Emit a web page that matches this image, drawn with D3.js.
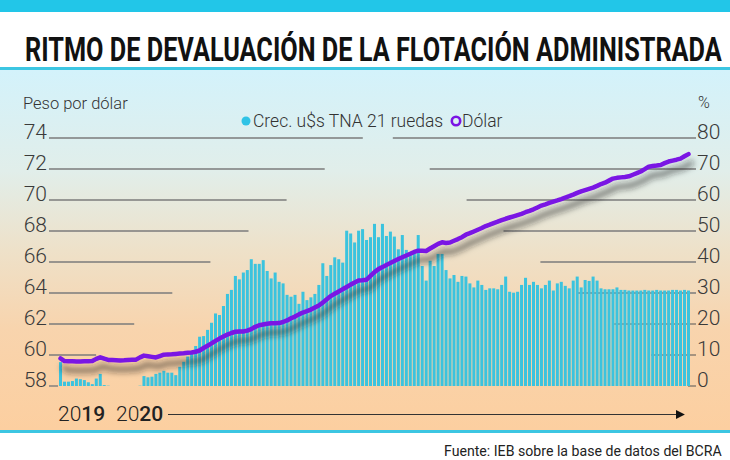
<!DOCTYPE html>
<html>
<head>
<meta charset="utf-8">
<title></title>
<script src="https://cdn.jsdelivr.net/npm/d3@7/dist/d3.min.js"></script>
<style>
  body { margin: 0; background: #fff; }
  text { font-family: Roboto, "Noto Sans", sans-serif; }
</style>
</head>
<body>
<script>
const width = 730
const height = 460

// datos
const titulo = 'RITMO DE DEVALUACIÓN DE LA FLOTACIÓN ADMINISTRADA'
const fuente = 'Fuente: IEB sobre la base de datos del BCRA'
const ticksPeso = [58, 60, 62, 64, 66, 68, 70, 72, 74]
const ticksPct = [0, 10, 20, 30, 40, 50, 60, 70, 80]
const anios = ['2019', '2020']

// Crec. u$s TNA 21 ruedas (%), una barra por rueda
const crec = [
  7.7, 1.4, 1.4, 1.6, 2.4, 2.2, 1.9, 1.2, 0.6, 2.4, 3.9, 0.3, 0.1,
  0, 0, 0, 0, 0, 0, 0,
  0.1, 3.2, 2.8, 3.0, 3.9, 4.3, 4.9, 4.3, 4.3, 3.5,
  6.2, 7.8, 9.5, 11.1, 12.9, 15.9, 16.1, 18.1, 20.4, 23.4,
  22.9, 25.8, 29.7, 31.0, 35.5, 34.4, 36.6, 37.4, 40.9, 39.4,
  39.4, 40.6, 37.1, 34.7, 36.6, 33.6, 33.1, 29.4, 28.8, 29.4,
  26.5, 30.4, 27.7, 28.6, 29.7, 32.6, 39.6, 35.5, 39.0, 41.5,
  40.9, 39.8, 50.1, 49.2, 46.3, 50.1, 50.6, 47.1, 48.0, 52.3,
  48.0, 52.3, 48.4, 49.8, 48.2, 44.1, 48.7, 43.9, 42.8, 43.0,
  48.7, 38.7, 34.0, 40.4, 38.7, 42.6, 42.6, 37.4, 34.7, 35.8,
  33.6, 35.5, 35.3, 33.1, 31.8, 34.0, 32.6, 31.0, 31.5, 31.5,
  31.2, 32.6, 35.3, 30.4, 30.1, 30.4, 32.6, 34.9, 32.6, 33.6,
  32.6, 31.5, 32.6, 34.0, 30.8, 33.1, 33.6, 32.3, 31.5, 34.0,
  35.3, 31.8, 34.2, 33.9, 35.3, 34.0, 31.5, 31.2, 31.2, 31.2,
  31.8, 31.0, 31.0, 30.8, 30.8, 30.8, 30.8, 31.0, 30.8, 30.8,
  31.0, 30.8, 30.8, 30.8, 31.0, 31.0, 30.8, 31.0, 30.8
]

// Dólar (peso por dólar)
const dolar = [
  59.78, 59.61, 59.60, 59.59, 59.58, 59.58, 59.59, 59.60, 59.61, 59.75,
  59.85, 59.76, 59.68, 59.67, 59.66, 59.65, 59.66, 59.68, 59.69, 59.70,
  59.85, 59.96, 59.92, 59.88, 59.84, 59.93, 60.02, 60.04, 60.05, 60.07,
  60.09, 60.11, 60.14, 60.16, 60.21, 60.29, 60.45, 60.60, 60.75, 60.91,
  61.06, 61.19, 61.32, 61.42, 61.50, 61.51, 61.52, 61.57, 61.67, 61.82,
  61.92, 61.97, 62.02, 62.05, 62.05, 62.06, 62.13, 62.23, 62.37, 62.48,
  62.62, 62.74, 62.83, 62.93, 63.06, 63.19, 63.38, 63.60, 63.80, 63.95,
  64.10, 64.24, 64.39, 64.54, 64.67, 64.80, 64.82, 64.86, 65.11, 65.35,
  65.54, 65.67, 65.81, 65.93, 66.06, 66.19, 66.31, 66.42, 66.53, 66.65,
  66.73, 66.72, 66.71, 66.87, 67.02, 67.17, 67.27, 67.23, 67.26, 67.37,
  67.48, 67.60, 67.76, 67.86, 67.97, 68.08, 68.19, 68.32, 68.41, 68.51,
  68.60, 68.70, 68.79, 68.87, 68.95, 69.03, 69.11, 69.21, 69.30, 69.40,
  69.52, 69.64, 69.72, 69.81, 69.89, 69.97, 70.06, 70.16, 70.25, 70.35,
  70.46, 70.56, 70.64, 70.72, 70.80, 70.91, 71.03, 71.12, 71.25, 71.38,
  71.43, 71.46, 71.49, 71.53, 71.63, 71.73, 71.84, 71.99, 72.15, 72.19,
  72.22, 72.26, 72.38, 72.48, 72.54, 72.60, 72.67, 72.82, 72.96
]

const svg = d3.select('body').append('svg')
  .attr('width', width)
  .attr('height', height)

const defs = svg.append('defs')
const grad = defs.append('linearGradient')
  .attr('id', 'fondo')
  .attr('gradientUnits', 'userSpaceOnUse')
  .attr('x1', 0).attr('y1', 70).attr('x2', 0).attr('y2', 430)
grad.append('stop').attr('offset', '0%').attr('stop-color', '#d3f2fb')
grad.append('stop').attr('offset', '28%').attr('stop-color', '#e1eeea')
grad.append('stop').attr('offset', '50%').attr('stop-color', '#eee1c9')
grad.append('stop').attr('offset', '72%').attr('stop-color', '#f8d4ad')
grad.append('stop').attr('offset', '100%').attr('stop-color', '#fccfa0')

const sombra = defs.append('filter').attr('id', 'sombra')
  .attr('x', '-10%').attr('y', '-30%').attr('width', '130%').attr('height', '180%')
sombra.append('feDropShadow')
  .attr('dx', 3).attr('dy', 9).attr('stdDeviation', 3.2)
  .attr('flood-color', '#1e1e1e').attr('flood-opacity', 0.65)

defs.append('marker').attr('id', 'flecha')
  .attr('viewBox', '0 0 10 10').attr('refX', 9).attr('refY', 5)
  .attr('markerWidth', 9).attr('markerHeight', 9).attr('markerUnits', 'userSpaceOnUse')
  .attr('orient', 'auto')
  .append('path').attr('d', 'M0,0L10,5L0,10Z').attr('fill', '#111')

// texto comprimido a un ancho dado (fuente condensada)
function condensado(sel, x0, y0, ancho) {
  const w = sel.node().getComputedTextLength()
  sel.attr('x', 0).attr('y', 0)
    .attr('transform', `translate(${x0},${y0}) scale(${ancho / w},1)`)
}

// cabecera
svg.append('rect').attr('x', 0).attr('y', 0).attr('width', width).attr('height', 12).attr('fill', '#22c6e8')
const tit = svg.append('text')
  .style('font-size', '33px').style('font-weight', 700).attr('fill', '#111')
  .text(titulo)
condensado(tit, 25, 61, 697)

// panel
svg.append('rect').attr('x', 0).attr('y', 70).attr('width', width).attr('height', 361).attr('fill', 'url(#fondo)')
svg.append('rect').attr('x', 0).attr('y', 67).attr('width', width).attr('height', 3).attr('fill', '#3cc6e2')
svg.append('rect').attr('x', 0).attr('y', 430).attr('width', width).attr('height', 3).attr('fill', '#3cc6e2')

// escalas
const x = d3.scaleBand()
  .domain(d3.range(crec.length))
  .range([59, 690])
  .paddingInner(0.24)
const yPeso = d3.scaleLinear().domain([58, 74]).range([386, 138])
const yPct = d3.scaleLinear().domain([0, 80]).range([386, 138])

const gris = '#7b7b7b'

// grilla izquierda (escalonada)
ticksPeso.forEach((d, k) => {
  svg.append('line')
    .attr('x1', 49).attr('x2', 58 + k * 38.1)
    .attr('y1', yPeso(d)).attr('y2', yPeso(d))
    .attr('stroke', gris).attr('stroke-width', 1.4)
  svg.append('text')
    .attr('x', 47).attr('y', yPeso(d) + 1)
    .attr('text-anchor', 'end')
    .style('font-size', '21px').style('font-weight', 300).attr('fill', '#3a3a3a')
    .text(d)
})

// grilla derecha (escalonada)
ticksPct.forEach((d, k) => {
  svg.append('line')
    .attr('x1', 688 - k * 36.9).attr('x2', 696)
    .attr('y1', yPct(d)).attr('y2', yPct(d))
    .attr('stroke', k < 3 ? '#555' : gris).attr('stroke-width', k < 3 ? 1 : 1.4)
  svg.append('text')
    .attr('x', 697).attr('y', yPct(d) + 1)
    .style('font-size', '21px').style('font-weight', 300).attr('fill', '#3a3a3a')
    .text(d)
})

// barras
svg.append('g').selectAll('rect')
  .data(crec)
  .join('rect')
  .attr('x', (d, i) => x(i))
  .attr('width', x.bandwidth())
  .attr('y', d => yPct(d))
  .attr('height', d => yPct(0) - yPct(d))
  .attr('fill', '#3bc3de')

// linea dolar
const linea = d3.line()
  .x((d, i) => x(i) + x.bandwidth() / 2)
  .y(d => yPeso(d))
svg.append('path')
  .datum(dolar)
  .attr('d', linea)
  .attr('fill', 'none')
  .attr('stroke', '#7a14e4')
  .attr('stroke-width', 4.5)
  .attr('stroke-linejoin', 'round')
  .attr('stroke-linecap', 'round')
  .attr('filter', 'url(#sombra)')

// titulos de ejes
svg.append('text').attr('x', 23).attr('y', 109)
  .style('font-size', '16.5px').style('font-weight', 300).attr('fill', '#333')
  .text('Peso por dólar')
svg.append('text').attr('x', 698).attr('y', 108)
  .style('font-size', '16px').style('font-weight', 300).attr('fill', '#333')
  .text('%')

// leyenda
svg.append('circle').attr('cx', 246).attr('cy', 121).attr('r', 4.5).attr('fill', '#2fc3e6')
svg.append('text').attr('x', 253).attr('y', 127)
  .style('font-size', '17.5px').style('font-weight', 300).attr('fill', '#333')
  .text('Crec. u$s TNA 21 ruedas')
svg.append('circle').attr('cx', 456).attr('cy', 121).attr('r', 4.2)
  .attr('fill', 'none').attr('stroke', '#7a14e4').attr('stroke-width', 2.6)
svg.append('text').attr('x', 462).attr('y', 127)
  .style('font-size', '17.5px').style('font-weight', 300).attr('fill', '#333')
  .text('Dólar')

// eje temporal
const anioX = [58, 116]
anios.forEach((a, k) => {
  const t = svg.append('text').attr('x', anioX[k]).attr('y', 421)
    .style('font-size', '21px').attr('fill', '#222')
  t.append('tspan').style('font-weight', 300).text(a.slice(0, 2))
  t.append('tspan').style('font-weight', 500).text(a.slice(2))
})
svg.append('line')
  .attr('x1', 168).attr('x2', 684).attr('y1', 414.5).attr('y2', 414.5)
  .attr('stroke', '#333').attr('stroke-width', 1)
  .attr('marker-end', 'url(#flecha)')

// fuente
const fte = svg.append('text')
  .style('font-size', '15px').attr('fill', '#222')
  .text(fuente)
condensado(fte, 444, 456, 278)
</script>
</body>
</html>
